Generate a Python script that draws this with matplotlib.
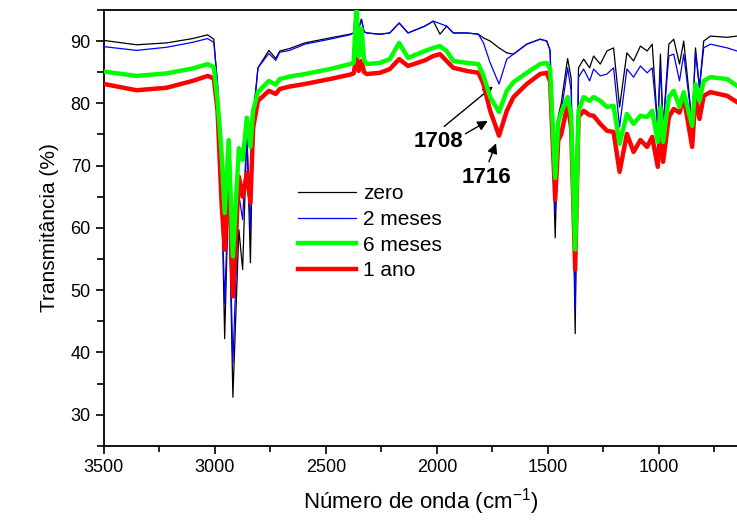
import numpy as np
import matplotlib
matplotlib.use('Agg')
import matplotlib.pyplot as plt
from matplotlib.ticker import MultipleLocator

plt.rcParams['font.family'] = ['Liberation Sans', 'DejaVu Sans']
plt.rcParams['mathtext.fontset'] = 'custom'
plt.rcParams['mathtext.rm'] = 'Liberation Sans'
plt.rcParams['mathtext.it'] = 'Liberation Sans'

# wavenumber grid (cm-1) and transmittance (%)
wn = [3500, 3353, 3218, 3100, 3033, 3005, 2988, 2970, 2956, 2938, 2919, 2892,
      2875, 2856, 2840, 2828, 2806, 2757, 2726, 2708, 2663, 2595, 2482, 2392,
      2375, 2362, 2352, 2340, 2328, 2316, 2257, 2212, 2170, 2130, 2054, 2016,
      1986, 1956, 1926, 1865, 1813, 1790, 1760, 1720, 1685, 1655, 1595, 1535,
      1505, 1490, 1467, 1453, 1440, 1411, 1395, 1377, 1362, 1339, 1312, 1294,
      1264, 1234, 1204, 1177, 1144, 1114, 1083, 1053, 1030, 1005, 993, 981,
      955, 933, 907, 888, 850, 835, 817, 798, 768, 692, 648]

t_zero = [90.1, 89.4, 89.7, 90.4, 91.0, 90.3, 83.0, 66.6, 42.2, 67.2, 32.8, 59.7,
          53.3, 75.2, 54.4, 77.7, 85.7, 88.5, 87.2, 88.4, 88.8, 89.7, 90.5, 91.1,
          91.3, 97.0, 92.0, 93.5, 91.5, 91.3, 91.1, 91.3, 92.9, 91.3, 92.4, 93.2,
          91.1, 92.4, 91.3, 91.3, 91.1, 90.5, 90.0, 88.9, 88.1, 87.9, 89.5, 90.3,
          90.0, 88.5, 58.4, 78.0, 80.0, 87.2, 84.0, 43.0, 85.7, 87.1, 85.7, 87.6,
          86.3, 88.4, 88.9, 79.4, 88.1, 86.8, 89.2, 88.4, 89.5, 76.0, 87.9, 76.0,
          89.5, 90.3, 86.3, 90.0, 76.7, 88.9, 82.5, 90.0, 90.8, 90.6, 90.8]

t_2m = [89.1, 88.5, 89.0, 89.8, 90.4, 89.8, 83.0, 66.6, 47.7, 67.2, 38.3, 65.3,
        61.3, 75.2, 59.4, 77.7, 85.7, 88.0, 86.9, 88.2, 88.5, 89.5, 90.3, 91.0,
        91.3, 97.0, 92.0, 93.5, 91.5, 91.3, 91.1, 91.3, 92.9, 91.3, 92.4, 93.2,
        92.8, 92.4, 91.3, 91.3, 91.1, 89.7, 86.5, 83.1, 87.1, 87.9, 89.5, 90.3,
        90.0, 88.5, 62.4, 76.2, 78.5, 85.7, 82.0, 46.9, 84.2, 85.5, 83.6, 85.5,
        84.4, 84.7, 85.7, 76.2, 85.5, 84.2, 86.0, 84.9, 85.7, 76.2, 85.7, 76.2,
        87.6, 87.9, 83.6, 87.9, 76.7, 88.1, 82.5, 88.9, 89.5, 88.9, 88.4]

t_6m = [85.1, 84.4, 84.8, 85.6, 86.3, 85.8, 80.4, 72.0, 62.4, 74.1, 55.4, 72.8,
        70.9, 77.7, 73.0, 78.8, 81.8, 83.6, 83.0, 83.9, 84.3, 84.7, 85.5, 86.3,
        86.5, 96.0, 87.5, 92.0, 87.0, 86.3, 86.5, 87.1, 89.7, 87.3, 88.4, 88.9,
        89.2, 88.4, 86.8, 86.5, 86.3, 84.4, 81.0, 78.6, 82.0, 83.4, 84.9, 86.3,
        86.5, 85.5, 68.0, 77.0, 78.5, 81.0, 78.0, 56.5, 78.8, 81.0, 80.4, 81.0,
        80.4, 79.4, 79.6, 73.5, 78.3, 76.7, 78.0, 77.8, 78.8, 73.8, 79.4, 73.8,
        81.0, 82.0, 79.4, 81.8, 76.4, 83.1, 80.4, 83.6, 84.2, 83.9, 82.8]

t_1a = [83.1, 82.1, 82.5, 83.6, 84.4, 84.0, 78.8, 64.0, 56.5, 70.5, 49.0, 68.2,
        65.0, 68.8, 64.0, 76.0, 80.4, 82.0, 81.5, 82.3, 82.7, 83.1, 83.9, 84.6,
        84.8, 87.5, 85.2, 86.8, 85.0, 84.7, 84.9, 85.5, 87.1, 86.0, 86.9, 87.6,
        87.9, 86.8, 85.7, 85.2, 84.9, 83.1, 78.8, 74.8, 78.8, 81.0, 83.1, 84.7,
        84.9, 83.5, 64.5, 74.1, 75.0, 79.9, 76.0, 53.3, 77.8, 78.8, 78.1, 78.0,
        76.7, 75.6, 75.4, 69.0, 75.1, 72.2, 74.1, 73.0, 74.6, 69.8, 76.7, 70.6,
        77.8, 79.1, 78.5, 81.0, 73.0, 81.2, 77.5, 81.2, 81.8, 81.2, 80.2]

labels = ['zero', '2 meses', '6 meses', '1 ano']

fig = plt.figure(figsize=(7.37, 5.22), dpi=100)
ax = fig.add_axes([0.141, 0.146, 0.859, 0.835])

ax.plot(wn, t_zero, color='black', lw=0.9, label=labels[0], zorder=2)
ax.plot(wn, t_2m, color='#0000ff', lw=0.9, label=labels[1], zorder=3)
ax.plot(wn, t_6m, color='#00ff00', lw=3.2, label=labels[2], zorder=5)
ax.plot(wn, t_1a, color='#ff0000', lw=3.2, label=labels[3], zorder=4)

ax.set_xlim(3500, 648)
ax.set_ylim(25, 95)
ax.xaxis.set_major_locator(MultipleLocator(500))
ax.xaxis.set_minor_locator(MultipleLocator(250))
ax.yaxis.set_major_locator(MultipleLocator(10))
ax.yaxis.set_minor_locator(MultipleLocator(5))
ax.set_yticks([30, 40, 50, 60, 70, 80, 90])
ax.tick_params(axis='both', which='major', direction='out', length=6, width=1.2,
               labelsize=13)
ax.tick_params(axis='both', which='minor', direction='out', length=4, width=1.2)
ax.tick_params(axis='y', which='minor', length=5)
ax.spines['right'].set_visible(False)
for s in ['left', 'bottom', 'top']:
    ax.spines[s].set_linewidth(1.3)

ax.set_xlabel('Número de onda (cm$^{-1}$)', fontsize=16, labelpad=7)
ax.set_ylabel('Transmitância (%)', fontsize=15, labelpad=8)

ax.legend(loc='upper left', bbox_to_anchor=(0.306, 0.60), frameon=False,
          fontsize=15, handlelength=2.8, handletextpad=0.35, labelspacing=0.32,
          borderpad=0, borderaxespad=0)

arr = dict(arrowstyle='-|>', color='black', lw=1.0, mutation_scale=15)
ax.text(1995, 73.9, '1708', fontsize=16, fontweight='bold', ha='center', va='center')
ax.annotate('', xy=(1738, 83.0), xytext=(1977, 76.0), arrowprops=arr)
ax.annotate('', xy=(1760, 77.4), xytext=(1882, 74.9), arrowprops=arr)
ax.text(1779, 68.1, '1716', fontsize=16, fontweight='bold', ha='center', va='center')
ax.annotate('', xy=(1729, 74.0), xytext=(1770, 70.2), arrowprops=arr)

fig.savefig('out.png', dpi=100)
